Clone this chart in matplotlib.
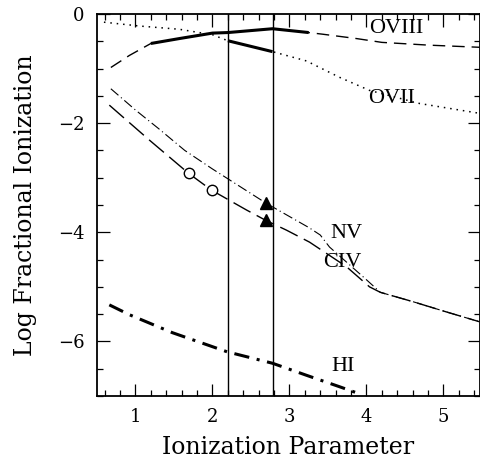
import matplotlib
matplotlib.use("Agg")
import matplotlib.pyplot as plt
import numpy as np
from matplotlib.ticker import MultipleLocator

# ---- data ----
ovIII_x = [0.68, 0.92, 1.2, 1.57, 2.0, 2.2, 2.78, 3.25, 3.43, 3.87, 4.2, 4.8, 5.47]
ovIII_y = [-0.98, -0.76, -0.54, -0.45, -0.35, -0.34, -0.27, -0.34, -0.37, -0.45, -0.52, -0.57, -0.61]
ovIII_heavy = (1.2, 3.25)

ovII_x = [0.59, 1.05, 1.57, 2.0, 2.2, 2.78, 3.22, 3.65, 4.04, 4.69, 5.47]
ovII_y = [-0.15, -0.22, -0.28, -0.38, -0.49, -0.69, -0.86, -1.16, -1.40, -1.64, -1.82]
ovII_heavy = (2.2, 2.78)

nv_x = [0.68, 1.0, 1.3, 1.64, 2.0, 2.2, 2.7, 3.26, 3.4, 3.52, 4.0, 4.18, 4.6, 5.04, 5.47]
nv_y = [-1.37, -1.76, -2.10, -2.50, -2.84, -3.02, -3.47, -3.92, -4.05, -4.27, -4.87, -5.10, -5.27, -5.46, -5.64]

civ_x = [0.66, 1.18, 1.69, 1.99, 2.44, 2.69, 2.96, 3.26, 3.74, 4.04, 4.18, 4.6, 5.04, 5.47]
civ_y = [-1.67, -2.31, -2.92, -3.23, -3.59, -3.78, -3.96, -4.18, -4.63, -5.00, -5.10, -5.27, -5.46, -5.64]

hi_x = [0.66, 0.92, 1.48, 2.19, 2.78, 3.22, 3.65, 3.87]
hi_y = [-5.33, -5.51, -5.84, -6.19, -6.40, -6.62, -6.83, -6.94]

civ_circle_x = [1.69, 1.99]
civ_circle_y = [-2.92, -3.23]
tri_x = [2.70, 2.70]
tri_y = [-3.47, -3.78]

vlines_x = [2.2, 2.78]

labels = ["OVIII", "OVII", "NV", "CIV", "HI"]
label_x = [4.39, 4.33, 3.74, 3.69, 3.69]
label_y = [-0.27, -1.55, -4.02, -4.55, -6.46]

xticks = [1, 2, 3, 4, 5]
yticks = [-6, -4, -2, 0]

# ---- figure ----
fig = plt.figure(figsize=(4.80, 4.61), dpi=100)
ax = fig.add_axes([97/480, 1 - 396/461, 383/480, 382/461])
ax.set_xlim(0.5, 5.475)
ax.set_ylim(-7, 0)

def segment(xs, ys, lo, hi):
    xs = np.asarray(xs, float); ys = np.asarray(ys, float)
    inner = xs[(xs > lo) & (xs < hi)]
    sx = np.concatenate([[lo], inner, [hi]])
    sy = np.interp(sx, xs, ys)
    return sx, sy

k = 'black'
# OVIII dashed + heavy part
ax.plot(ovIII_x, ovIII_y, color=k, lw=1.0, dashes=(9, 5))
sx, sy = segment(ovIII_x, ovIII_y, *ovIII_heavy)
ax.plot(sx, sy, color=k, lw=2.2, solid_capstyle='butt')
# OVII dotted + heavy part
ax.plot(ovII_x, ovII_y, color=k, lw=1.1, dashes=(1, 3.2))
sx, sy = segment(ovII_x, ovII_y, *ovII_heavy)
ax.plot(sx, sy, color=k, lw=2.2, solid_capstyle='butt')
# NV thin dash-dot
ax.plot(nv_x, nv_y, color=k, lw=0.8, dashes=(9, 3, 1, 3))
# CIV long dash
ax.plot(civ_x, civ_y, color=k, lw=1.0, dashes=(14, 5))
# HI heavy dash-dot
ax.plot(hi_x, hi_y, color=k, lw=2.2, dashes=(5, 2.5, 1, 2.5))

ax.plot(civ_circle_x, civ_circle_y, 'o', mfc='white', mec=k, mew=1.0, ms=7.5, ls='none')
ax.plot(tri_x, tri_y, '^', color=k, ms=8, ls='none')

for vx in vlines_x:
    ax.axvline(vx, color=k, lw=1.0)

for t, lx, ly in zip(labels, label_x, label_y):
    ax.text(lx, ly, t, fontsize=16, family='Liberation Serif', ha='center', va='center')

ax.set_xticks(xticks)
ax.set_yticks(yticks)
ax.xaxis.set_minor_locator(MultipleLocator(0.2))
ax.yaxis.set_minor_locator(MultipleLocator(0.5))
ax.tick_params(which='both', direction='in', top=True, right=True, width=0.9)
ax.tick_params(which='major', length=9, labelsize=13, pad=9)
ax.tick_params(which='minor', length=4.5)
for lab in ax.get_xticklabels() + ax.get_yticklabels():
    lab.set_family('DejaVu Serif')
for s in ax.spines.values():
    s.set_linewidth(1.3)

ax.set_xlabel('Ionization Parameter', fontsize=17, family='DejaVu Serif', labelpad=7)
ax.set_ylabel('Log Fractional Ionization', fontsize=17, family='DejaVu Serif', labelpad=15)

fig.savefig('out.png', dpi=100)
